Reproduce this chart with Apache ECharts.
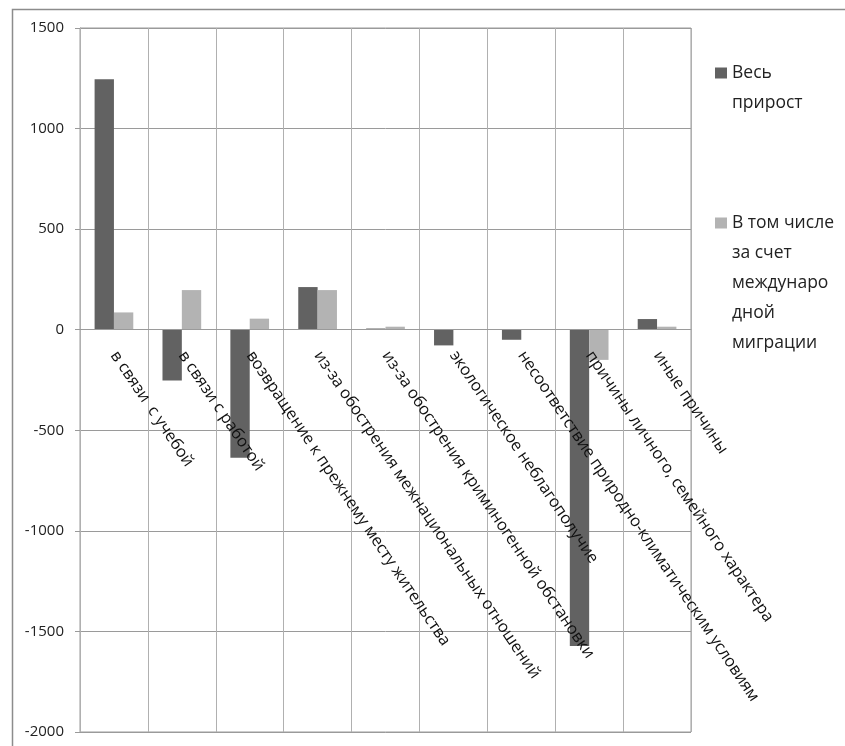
<!DOCTYPE html>
<html><head><meta charset="utf-8">
<script src="https://cdn.jsdelivr.net/npm/echarts@6/dist/echarts.min.js"></script>
<style>html,body{margin:0;padding:0;background:#fff}#c{width:845px;height:746px}</style>
</head><body><div id="c"></div>
<script>
const categories = [
  'в связи  с учебой',
  'в связи с работой',
  'возвращение к прежнему месту жительства',
  'из-за обострения межнациональных отношений',
  'из-за обострения криминогенной обстановки',
  'экологическое неблагополучие',
  'несоответствие природно-климатическим условиям',
  'причины личного, семейного характера',
  'иные причины'
];
const seriesNames = ['Весь прирост', 'В том числе за счет международной миграции'];
const legendLines = [['Весь', 'прирост'], ['В том числе', 'за счет', 'междунаро', 'дной', 'миграции']];
const totalGrowth = [1245, -253, -636, 212, 6, -78, -50, -1573, 53];
const internationalGrowth = [86, 197, 55, 197, 15, 3, 1, -150, 15];
const yTicks = { min: -2000, max: 1500, interval: 500 };

// pad with blank lines on top so the first line sits level with the legend icon
function legendText(name) {
  const lines = legendLines[seriesNames.indexOf(name)];
  return new Array(lines.length - 1).fill('').concat(lines).join('\n');
}

const chart = echarts.init(document.getElementById('c'), null, {renderer: 'canvas'});
const font = 'Open Sans';
const legendBase = {
  orient: 'vertical', left: 715, padding: 0, itemWidth: 12, itemHeight: 11, icon: 'rect',
  formatter: legendText,
  textStyle: {fontFamily: font, fontSize: 17.5, color: '#222', lineHeight: 30}
};
chart.setOption({
  animation: false,
  backgroundColor: '#fff',
  graphic: [{
    type: 'rect', left: 10, top: 7, shape: {width: 900, height: 800},
    style: {fill: 'none', stroke: '#8c8c8c', lineWidth: 1.5}, silent: true, z: -10
  }],
  grid: {left: 80, right: 154, top: 28, bottom: 14, outerBoundsMode: 'none', containLabel: false,
         show: true, borderColor: '#9a9a9a', borderWidth: 1},
  legend: [
    Object.assign({}, legendBase, {top: 28, data: [seriesNames[0]]}),
    Object.assign({}, legendBase, {top: 88, data: [seriesNames[1]]})
  ],
  xAxis: {
    type: 'category', data: categories, position: 'bottom', z: 5,
    axisLine: {onZero: false, lineStyle: {color: '#9a9a9a'}},
    axisTick: {show: false},
    splitLine: {show: true, lineStyle: {color: '#b0b0b0'}},
    axisLabel: {interval: 0, rotate: -56, margin: 23, fontFamily: font, fontSize: 16.3, color: '#111'}
  },
  yAxis: {
    type: 'value', min: yTicks.min, max: yTicks.max, interval: yTicks.interval,
    axisLine: {show: true, lineStyle: {color: '#9a9a9a'}},
    axisTick: {show: true, length: 5, lineStyle: {color: '#9a9a9a'}},
    splitLine: {lineStyle: {color: '#9a9a9a'}},
    axisLabel: {margin: 16, fontFamily: font, fontSize: 15, color: '#222', formatter: v => String(v)}
  },
  series: [
    {name: seriesNames[0], type: 'bar', data: totalGrowth, barGap: '0%', barCategoryGap: '43%', itemStyle: {color: '#626262'}},
    {name: seriesNames[1], type: 'bar', data: internationalGrowth, itemStyle: {color: '#b3b3b3'}}
  ]
});
// move the category axis (line + labels) up to the zero line of the value scale
const zeroY = chart.convertToPixel({yAxisIndex: 0}, 0);
const bottomY = chart.convertToPixel({yAxisIndex: 0}, yTicks.min);
chart.setOption({xAxis: {offset: zeroY - bottomY}});
</script></body></html>
